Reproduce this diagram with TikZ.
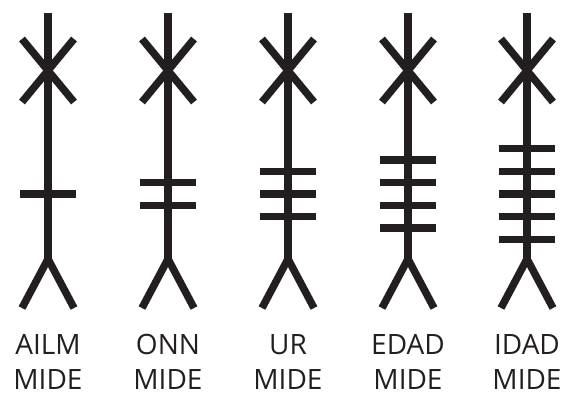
\documentclass[tikz,border=0pt]{standalone}
\usepackage{fontspec}
\setmainfont{Open Sans}
\usepackage{xcolor}
\definecolor{runeblack}{HTML}{231F20}
\usepackage{tikz}

\begin{document}
\begin{tikzpicture}[x=1pt,y=-1pt,
    rune/.style={draw=runeblack, line width=7.5pt, line join=miter},
    runelabel/.style={anchor=base, text=runeblack, inner sep=0pt, text depth=0pt, font=\fontsize{28}{30}\selectfont}]
  \useasboundingbox (0,0) rectangle (566,397);
  \foreach \n/\x/\name in {1/48/AILM, 2/168/ONN, 3/288/UR, 4/408/EDAD, 5/527/IDAD} {
    \coordinate (top\n) at (\x,13);
    \coordinate (fork\n) at (\x,259);
    \draw[rune] (top\n) -- (fork\n);
    % cross at the top
    \draw[rune] (\x-26,39) -- (\x+26,102);
    \draw[rune] (\x+26,39) -- (\x-26,102);
    % bars, one to five
    \foreach \k in {1,...,\n} {
      \pgfmathsetmacro\yb{194+(\k-(\n+1)/2)*22.7}
      \draw[rune] (\x-28,\yb) -- (\x+28,\yb);
    }
    % feet
    \draw[rune] (\x-26,308) -- (fork\n) -- (\x+26,308);
    \node[runelabel] (name\n) at (\x,354) {\name};
    \node[runelabel] (mide\n) at (\x,389) {MIDE};
  }
\end{tikzpicture}
\end{document}
